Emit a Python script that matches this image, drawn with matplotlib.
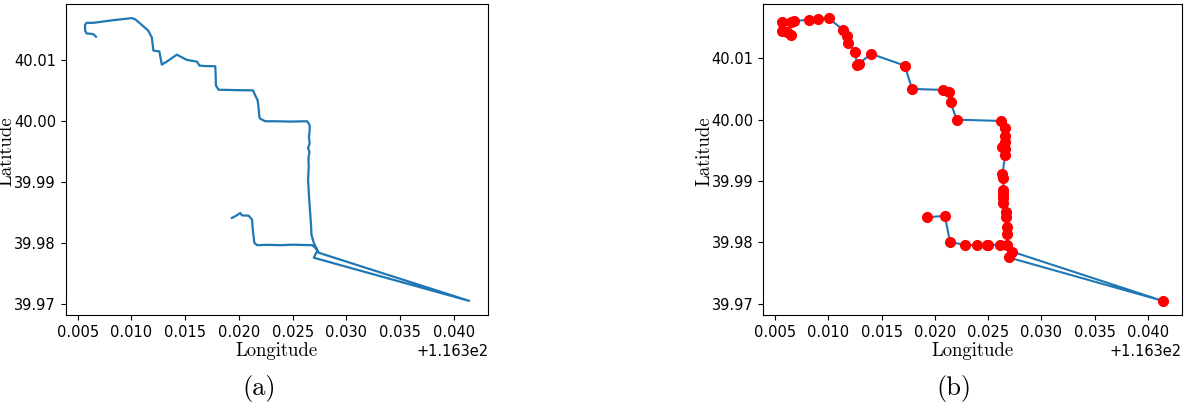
import matplotlib
matplotlib.use("Agg")
import matplotlib.pyplot as plt

# (a) full GPS trajectory
traj_lon = [116.31935, 116.31975, 116.32012, 116.32028, 116.32090, 116.32122, 116.32129,
            116.32143, 116.32168, 116.32273, 116.32385, 116.32497, 116.32618, 116.32681,
            116.32711, 116.32742, 116.34140, 116.32696, 116.32730, 116.32696, 116.32674,
            116.32671, 116.32658, 116.32651, 116.32643, 116.32649, 116.32646, 116.32656,
            116.32643, 116.32658, 116.32651, 116.32658, 116.32658, 116.32634, 116.32478,
            116.32339, 116.32245, 116.32199, 116.32190, 116.32183, 116.32174, 116.32152,
            116.32131, 116.31966, 116.31810, 116.31786, 116.31784, 116.31780, 116.31686,
            116.31633, 116.31609, 116.31516, 116.31423, 116.31329, 116.31283, 116.31260,
            116.31205, 116.31190, 116.31158, 116.31096, 116.31034, 116.31003, 116.30820,
            116.30645, 116.30584, 116.30568, 116.30571, 116.30584, 116.30645, 116.30671]
traj_lat = [39.98408, 39.98446, 39.98490, 39.98451, 39.98446, 39.98381, 39.98218,
            39.98001, 39.97962, 39.97968, 39.97962, 39.97970, 39.97965, 39.97962,
            39.97919, 39.97838, 39.97049, 39.97756, 39.97875, 39.98001, 39.98136,
            39.98271, 39.98597, 39.98788, 39.99033, 39.99249, 39.99391, 39.99489,
            39.99554, 39.99636, 39.99734, 39.99848, 39.99929, 39.99994, 39.99989,
            39.99994, 39.99994, 40.00035, 40.00064, 40.00206, 40.00337, 40.00418,
            40.00500, 40.00505, 40.00511, 40.00581, 40.00744, 40.00896, 40.00899,
            40.00907, 40.00972, 40.01000, 40.01086, 40.00972, 40.00923, 40.01140,
            40.01152, 40.01368, 40.01478, 40.01575, 40.01668, 40.01685, 40.01649,
            40.01608, 40.01608, 40.01575, 40.01478, 40.01434, 40.01424, 40.01380]

# (b) simplified trajectory (key points)
key_lon = [116.31922, 116.32094, 116.32142, 116.32283, 116.32399, 116.32488, 116.32503,
           116.32607, 116.32676, 116.32729, 116.34139, 116.32692, 116.32676, 116.32676,
           116.32670, 116.32670, 116.32644, 116.32644, 116.32644, 116.32644, 116.32644,
           116.32635, 116.32660, 116.32660, 116.32629, 116.32660, 116.32660, 116.32660,
           116.32620, 116.32205, 116.32148, 116.32132, 116.32078, 116.31786, 116.31717,
           116.31403, 116.31286, 116.31267, 116.31255, 116.31189, 116.31173, 116.31135,
           116.31003, 116.30899, 116.30821, 116.30679, 116.30654, 116.30568, 116.30568,
           116.30616, 116.30648]
key_lat = [39.98408, 39.98434, 39.98011, 39.97957, 39.97962, 39.97962, 39.97962,
           39.97962, 39.97962, 39.97848, 39.97049, 39.97756, 39.98136, 39.98245,
           39.98408, 39.98490, 39.98641, 39.98718, 39.98788, 39.98858, 39.99044,
           39.99114, 39.99424, 39.99522, 39.99549, 39.99631, 39.99738, 39.99859,
           39.99978, 39.99999, 40.00283, 40.00446, 40.00483, 40.00500, 40.00879,
           40.01070, 40.00912, 40.00891, 40.01098, 40.01245, 40.01368, 40.01466,
           40.01652, 40.01641, 40.01629, 40.01603, 40.01597, 40.01587, 40.01440,
           40.01424, 40.01380]

xlabel = "Longitude"
ylabel = "Latitude"
captions = ["(a)", "(b)"]

W, H = 1186, 408
fig = plt.figure(figsize=(W / 100, H / 100), dpi=100)

def box(l, t, r, b):
    return [l / W, 1 - b / H, (r - l) / W, (b - t) / H]

ax1 = fig.add_axes(box(65.7, 4, 488.3, 315))
ax2 = fig.add_axes(box(763.3, 4, 1181.7, 315))

ax1.plot(traj_lon, traj_lat, color="#1f77b4", lw=1.6)
ax2.plot(key_lon, key_lat, color="#1f77b4", lw=1.5, zorder=2)
ax2.plot(key_lon, key_lat, "o", color="red", ms=7, zorder=3, linestyle="none")

label_font = dict(family="cmr10", size=13.5)
caption_x = [259, 954]
for ax, cap, cx in zip((ax1, ax2), captions, caption_x):
    ax.set_xticks([116.305, 116.31, 116.315, 116.32, 116.325, 116.33, 116.335, 116.34])
    ax.set_yticks([39.97, 39.98, 39.99, 40.00, 40.01])
    ax.tick_params(labelsize=10.5)
    ax.xaxis.get_offset_text().set_fontsize(10.5)
    ax.set_xlabel(xlabel, fontdict=label_font, labelpad=2)
    ax.set_ylabel(ylabel, fontdict=label_font)
    ax.yaxis.set_label_coords(-0.118, 0.527)
    fig.text(cx / W, 0.032, cap, ha="center", va="baseline",
             family="cmr10", size=19)

fig.savefig("out.png", dpi=100)
